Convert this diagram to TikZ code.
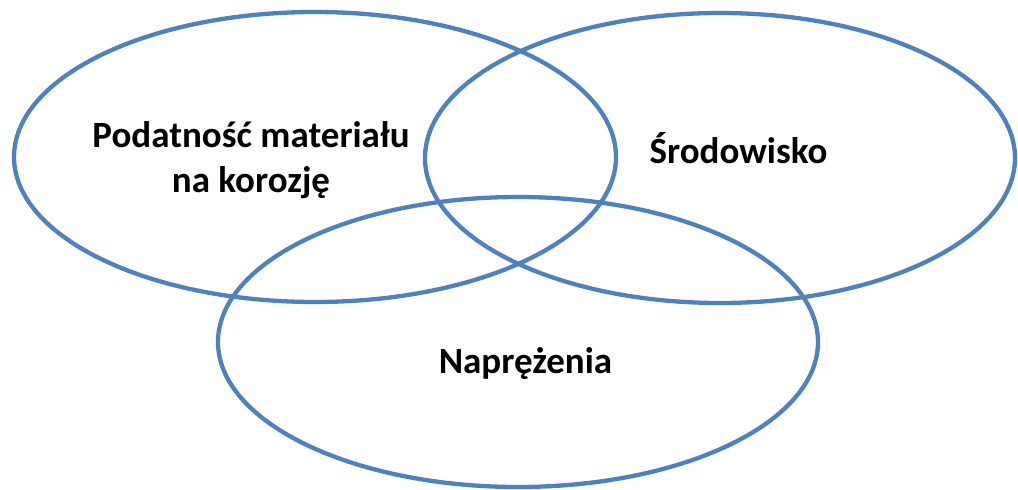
\documentclass[tikz,border=0pt]{standalone}
\usepackage{fontspec}
\setmainfont{Carlito}
\definecolor{vennblue}{HTML}{4F81BD}
\begin{document}
\begin{tikzpicture}[x=1pt,y=-1pt,
  venn/.style={draw=vennblue,line width=4.3pt},
  lbl/.style={font=\bfseries\fontsize{37}{45}\selectfont,align=center,inner sep=0pt,anchor=base}]
\useasboundingbox (0,0) rectangle (1018,490);
\draw[venn] (315,157) ellipse [x radius=301,y radius=145];
\draw[venn] (720,158) ellipse [x radius=295,y radius=145];
\draw[venn] (518,342) ellipse [x radius=300,y radius=145];
\node[lbl] (a) at (251,192) {Podatność materiału\\na korozję};
\node[lbl] (b) at (738.5,163) {Środowisko};
\node[lbl] (c) at (525.5,373) {Naprężenia};
\end{tikzpicture}
\end{document}
